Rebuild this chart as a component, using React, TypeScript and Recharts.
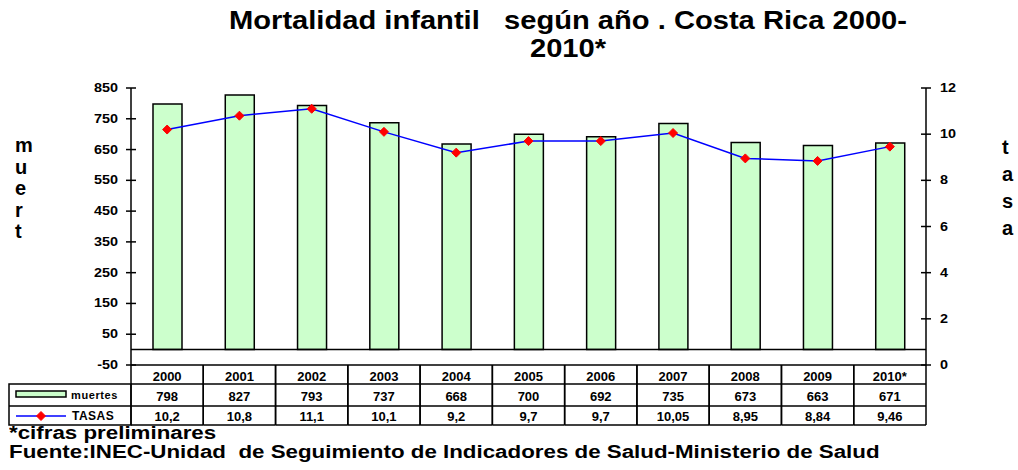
import {
  Bar,
  ComposedChart,
  Line,
  ReferenceLine,
  XAxis,
  YAxis,
} from 'recharts'

const years = ['2000', '2001', '2002', '2003', '2004', '2005', '2006', '2007', '2008', '2009', '2010*']
const muertes = [798, 827, 793, 737, 668, 700, 692, 735, 673, 663, 671]
const tasas = [10.2, 10.8, 11.1, 10.1, 9.2, 9.7, 9.7, 10.05, 8.95, 8.84, 9.46]
const leftTicks = [-50, 50, 150, 250, 350, 450, 550, 650, 750, 850]
const rightTicks = [0, 2, 4, 6, 8, 10, 12]

const data = years.map((year, i) => ({ year, muertes: muertes[i], tasa: tasas[i] }))

const W = 1018
const H = 470
const margin = { top: 88, right: 52, bottom: 44, left: 91 }
const axisW = 40
const plotLeft = margin.left + axisW
const plotRight = W - margin.right - axisW
const colW = (plotRight - plotLeft) / years.length
const rowH = [19, 22, 19]
const font = 'Arial, "Liberation Sans", sans-serif'

const fmt = (v: number) => String(v).replace('.', ',')

function LeftTick(props: any) {
  const { x, y, payload } = props
  return (
    <g>
      <line x1={x - 5} x2={x + 5} y1={y} y2={y} stroke="#000" strokeWidth={1.5} />
      <text
        transform={`translate(${x - 13},${y + 4}) scale(1.2,1)`}
        textAnchor="end"
        fontSize={12}
        fontWeight="bold"
        fontFamily={font}
        fill="#000"
      >
        {payload.value}
      </text>
    </g>
  )
}

function RightTick(props: any) {
  const { x, y, payload } = props
  return (
    <g>
      <line x1={x - 5} x2={x + 5} y1={y} y2={y} stroke="#000" strokeWidth={1.5} />
      <text
        transform={`translate(${x + 14},${y + 4}) scale(1.2,1)`}
        textAnchor="start"
        fontSize={12}
        fontWeight="bold"
        fontFamily={font}
        fill="#000"
      >
        {payload.value}
      </text>
    </g>
  )
}

function Diamond(props: any) {
  const { cx, cy } = props
  if (cx == null || cy == null) return null
  const r = 4.5
  return (
    <polygon
      points={`${cx},${cy - r} ${cx + r},${cy} ${cx},${cy + r} ${cx - r},${cy}`}
      fill="#FF0000"
      stroke="#FF0000"
    />
  )
}

// each x tick draws its column of the data table
function TableTick(props: any) {
  const { x, y, payload } = props
  const i = props.index ?? payload.index
  const left = x - colW / 2
  const right = x + colW / 2
  const y1 = y + rowH[0]
  const y2 = y1 + rowH[1]
  const y3 = y2 + rowH[2]
  const txt = { textAnchor: 'middle' as const, fontSize: 13, fontWeight: 'bold', fontFamily: font, fill: '#000' }
  return (
    <g>
      <line x1={right} x2={right} y1={y} y2={y3} stroke="#000" strokeWidth={1.5} />
      <line x1={left} x2={left} y1={y} y2={y3} stroke="#000" strokeWidth={1.5} />
      <line x1={left} x2={right} y1={y1} y2={y1} stroke="#000" strokeWidth={1.5} />
      <line x1={left} x2={right} y1={y2} y2={y2} stroke="#000" strokeWidth={1.5} />
      <line x1={left} x2={right} y1={y3} y2={y3} stroke="#000" strokeWidth={1.5} />
      <text x={x} y={y + 16} {...txt}>{payload.value}</text>
      <text x={x} y={y1 + 17} {...txt}>{muertes[i]}</text>
      <text x={x} y={y2 + 15} {...txt}>{fmt(tasas[i])}</text>
      {i === 0 && (
        <g>
          <rect x={9} y={y1} width={left - 9} height={rowH[1] + rowH[2]} fill="none" stroke="#000" strokeWidth={1.5} />
          <line x1={9} x2={left} y1={y2} y2={y2} stroke="#000" strokeWidth={1.5} />
          <rect x={16} y={y1 + 7} width={50} height={6} fill="#CCFFCC" stroke="#000" strokeWidth={1.5} />
          <text x={71} y={y1 + 15} fontSize={11} letterSpacing={0.6} fontWeight="bold" fontFamily={font} fill="#000">muertes</text>
          <line x1={16} x2={66} y1={y2 + 10} y2={y2 + 10} stroke="#0000FF" strokeWidth={1.5} />
          <Diamond cx={41} cy={y2 + 10} />
          <text x={72} y={y2 + 14} fontSize={12} letterSpacing={0.5} fontWeight="bold" fontFamily={font} fill="#000">TASAS</text>
        </g>
      )}
    </g>
  )
}

const sideLabel = (letters: string[], left: number, top: number, lh: number) => (
  <div
    style={{
      position: 'absolute',
      left,
      top,
      fontFamily: font,
      fontWeight: 'bold',
      fontSize: 20,
      lineHeight: `${lh}px`,
    }}
  >
    {letters.map((l, i) => (
      <div key={i}>{l}</div>
    ))}
  </div>
)

export default function App() {
  return (
    <div style={{ position: 'absolute', left: 0, top: 0, width: W, height: H, background: '#fff', overflow: 'hidden' }}>
      <div
        style={{
          position: 'absolute',
          left: 0,
          width: 1136,
          top: 6,
          textAlign: 'center',
          fontFamily: font,
          fontWeight: 'bold',
          fontSize: 26,
          lineHeight: '28px',
          whiteSpace: 'pre',
          transform: 'scaleX(1.12)',
          transformOrigin: '568px 0',
        }}
      >
        {'Mortalidad infantil   según año . Costa Rica 2000-\n2010*'}
      </div>
      {sideLabel(['m', 'u', 'e', 'r', 't'], 15, 135, 21.5)}
      {sideLabel(['t', 'a', 's', 'a'], 1002, 134, 27)}
      <div style={{ position: 'absolute', top: 0, left: 0 }}>
        <ComposedChart width={W} height={H} data={data} margin={margin}>
          <XAxis
            dataKey="year"
            interval={0}
            tickLine={false}
            tickSize={0}
            tickMargin={0}
            height={61}
            axisLine={{ stroke: '#000', strokeWidth: 1.5 }}
            tick={<TableTick />}
          />
          <YAxis
            yAxisId="left"
            domain={[-50, 850]}
            ticks={leftTicks}
            width={axisW}
            tickLine={false}
            tickSize={0}
            tickMargin={0}
            axisLine={{ stroke: '#000', strokeWidth: 1.5 }}
            tick={<LeftTick />}
          />
          <YAxis
            yAxisId="right"
            orientation="right"
            domain={[0, 12]}
            ticks={rightTicks}
            width={axisW}
            tickLine={false}
            tickSize={0}
            tickMargin={0}
            axisLine={{ stroke: '#000', strokeWidth: 1.5 }}
            tick={<RightTick />}
          />
          <ReferenceLine yAxisId="left" y={0} stroke="#000" strokeWidth={1.5} />
          <Bar
            yAxisId="left"
            dataKey="muertes"
            barSize={29}
            fill="#CCFFCC"
            stroke="#000"
            strokeWidth={1.5}
            isAnimationActive={false}
          />
          <Line
            yAxisId="right"
            dataKey="tasa"
            type="linear"
            stroke="#0000FF"
            strokeWidth={1.5}
            dot={<Diamond />}
            activeDot={false}
            isAnimationActive={false}
          />
        </ComposedChart>
      </div>
      <div
        style={{
          position: 'absolute',
          left: 9,
          top: 424,
          fontFamily: font,
          fontWeight: 'bold',
          fontSize: 18,
          lineHeight: '19px',
          whiteSpace: 'pre',
          transform: 'scaleX(1.24)',
          transformOrigin: '0 0',
        }}
      >
        {'*cifras preliminares\nFuente:INEC-Unidad  de Seguimiento de Indicadores de Salud-Ministerio de Salud'}
      </div>
    </div>
  )
}
